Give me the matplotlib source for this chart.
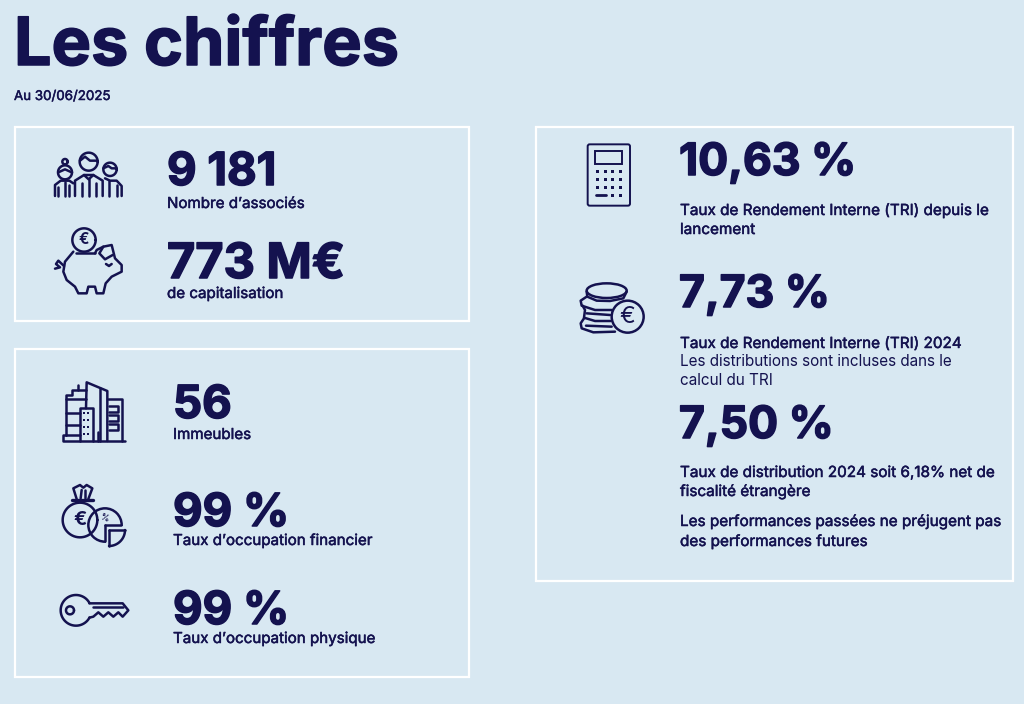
import numpy as np
import matplotlib
matplotlib.use('Agg')
import matplotlib.pyplot as plt
import matplotlib.patheffects as pe
from matplotlib.patches import Circle, FancyBboxPatch, Rectangle, Ellipse

BG = '#d8e8f2'
NAVY = '#14124f'

TITLE = 'Les chiffres'
SUBTITLE = 'Au 30/06/2025'

LEFT_VALUES = ['9 181', '773 M€', '56', '99 %', '99 %']
LEFT_LABELS = ['Nombre d’associés', 'de capitalisation', 'Immeubles',
               'Taux d’occupation financier', 'Taux d’occupation physique']
RIGHT_VALUES = ['10,63 %', '7,73 %', '7,50 %']
RIGHT_LINES = ['Taux de Rendement Interne (TRI) depuis le', 'lancement',
               'Taux de Rendement Interne (TRI) 2024',
               'Taux de distribution 2024 soit 6,18% net de', 'fiscalité étrangère',
               'Les performances passées ne préjugent pas', 'des performances futures']
RIGHT_LIGHT = ['Les distributions sont incluses dans le', 'calcul du TRI']

# layout, in pixels of the 1024x704 page
LEFT_X = [167, 167, 173, 173, 173]
LEFT_VALUE_Y = [185, 278, 418, 526, 624]
LEFT_LABEL_Y = [208, 298, 439, 545, 643]
RIGHT_VALUE_Y = [175, 307, 438]
RIGHT_LINE_Y = [215, 234, 348, 477, 496, 526, 546]
RIGHT_LIGHT_Y = [366, 385]

plt.rcParams['font.family'] = ['Inter', 'DejaVu Sans']

fig = plt.figure(figsize=(10.24, 7.04), dpi=100, facecolor=BG)
ax = fig.add_axes([0, 0, 1, 1])
ax.set_xlim(0, 1024)
ax.set_ylim(704, 0)
ax.axis('off')

LW = 1.8
HEAVY = [pe.withStroke(linewidth=1.1, foreground=NAVY)]
MEDIUM = [pe.withStroke(linewidth=0.35, foreground=NAVY)]


def stroke(pts, x0, y0, lw=LW):
    # points are read at 3x zoom from the crop corner
    p = np.array(pts, dtype=float)
    ax.plot(x0 + p[:, 0] / 3, y0 + p[:, 1] / 3, color=NAVY, lw=lw,
            solid_capstyle='round', solid_joinstyle='round')


def arc(cx, cy, r, a0, a1, x0, y0, lw=LW):
    t = np.radians(np.linspace(a0, a1, 60))
    ax.plot(x0 + (cx + r * np.cos(t)) / 3, y0 + (cy + r * np.sin(t)) / 3,
            color=NAVY, lw=lw, solid_capstyle='round')


def dots(xs, ys, x0, y0, s=2.4):
    for y in ys:
        for x in xs:
            ax.add_patch(Rectangle((x0 + x / 3 - s / 2, y0 + y / 3 - s / 2), s, s,
                                   fc=NAVY, ec='none'))


def draw_people(x0=40, y0=140):
    arc(146, 65, 27, 0, 360, x0, y0)
    stroke([(120, 62), (135, 50), (150, 62), (172, 62)], x0, y0)
    stroke([(105, 168), (105, 122), (132, 105), (160, 105), (188, 122), (188, 168)], x0, y0)
    stroke([(125, 168), (125, 128)], x0, y0)
    stroke([(168, 168), (168, 128)], x0, y0)
    stroke([(146, 118), (146, 168)], x0, y0)
    stroke([(132, 105), (146, 118), (160, 105)], x0, y0)
    arc(75, 97, 21, 0, 360, x0, y0)
    arc(75, 65, 8, 0, 360, x0, y0)
    stroke([(55, 97), (75, 88), (95, 97)], x0, y0)
    stroke([(45, 168), (45, 135), (62, 122), (88, 122), (100, 130)], x0, y0)
    stroke([(55, 168), (55, 140)], x0, y0)
    stroke([(75, 125), (75, 168)], x0, y0)
    stroke([(88, 168), (88, 135)], x0, y0)
    arc(210, 88, 20, 0, 360, x0, y0)
    stroke([(190, 85), (205, 78), (215, 85), (230, 85)], x0, y0)
    stroke([(195, 115), (210, 122), (230, 122), (245, 138), (245, 168)], x0, y0)
    stroke([(208, 122), (208, 168)], x0, y0)
    stroke([(230, 168), (230, 135)], x0, y0)


def draw_piggy(x0=40, y0=140):
    arc(132, 300, 35, 0, 360, x0, y0)
    ax.text(x0 + 132 / 3, y0 + 300 / 3, '€', color=NAVY, fontsize=11, ha='center',
            va='center', fontweight='bold')
    stroke([(108, 338), (165, 338)], x0, y0)
    stroke([(100, 335), (75, 365), (70, 395), (80, 420), (105, 440), (115, 460), (140, 460),
            (145, 440), (165, 440), (170, 460), (190, 460), (197, 430), (215, 410), (245, 395),
            (245, 375), (225, 355), (215, 315), (190, 320), (170, 330), (165, 340)], x0, y0)
    stroke([(190, 320), (178, 340), (195, 358), (218, 345)], x0, y0)
    stroke([(72, 378), (55, 362), (48, 372), (60, 382), (45, 386)], x0, y0)
    stroke([(198, 372), (207, 378), (215, 372)], x0, y0)


def draw_buildings(x0=50, y0=375):
    stroke([(47, 180), (40, 180), (40, 198), (225, 198)], x0, y0)
    stroke([(47, 180), (47, 60), (65, 60), (65, 45), (108, 45)], x0, y0)
    stroke([(85, 30), (85, 45)], x0, y0)
    stroke([(47, 72), (108, 72)], x0, y0)
    stroke([(47, 115), (90, 115)], x0, y0)
    stroke([(47, 150), (90, 150)], x0, y0)
    stroke([(47, 180), (90, 180)], x0, y0)
    stroke([(108, 100), (110, 22), (172, 48), (172, 198)], x0, y0)
    stroke([(150, 40), (150, 198)], x0, y0)
    stroke([(90, 198), (90, 100), (128, 100), (128, 198)], x0, y0)
    stroke([(145, 170), (145, 198)], x0, y0)
    dots([103, 115], [115, 135, 155, 178], x0, y0, s=2)
    stroke([(175, 72), (215, 72), (215, 198)], x0, y0)
    for y in [92, 120, 148]:
        stroke([(178, y), (203, y), (203, y + 18), (178, y + 18)], x0, y0)


def draw_money(x0=50, y0=375):
    arc(90, 435, 52, 0, 360, x0, y0)
    stroke([(65, 375), (130, 375)], x0, y0, lw=2.4)
    stroke([(80, 372), (70, 340), (90, 330), (100, 338), (110, 330), (127, 340), (115, 372)], x0, y0)
    stroke([(92, 370), (95, 345)], x0, y0)
    stroke([(105, 370), (105, 345)], x0, y0)
    ax.text(x0 + 90 / 3, y0 + 435 / 3, '€', color=NAVY, fontsize=14, ha='center',
            va='center', fontweight='bold')
    ax.add_patch(Circle((x0 + 165 / 3, y0 + 450 / 3), 50 / 3, fc=BG, ec=NAVY, lw=LW))
    ax.add_patch(Rectangle((x0 + 167 / 3, y0 + 452 / 3), 18, 18, fc=BG, ec='none'))
    stroke([(165, 450), (213, 450)], x0, y0)
    stroke([(165, 450), (165, 498)], x0, y0)
    stroke([(177, 465), (226, 465)], x0, y0)
    stroke([(177, 465), (177, 512)], x0, y0)
    arc(177, 465, 48, 0, 90, x0, y0)
    ax.text(x0 + 163 / 3, y0 + 428 / 3, '%', color=NAVY, fontsize=6, ha='center',
            va='center', fontweight='bold', rotation=-20)


def draw_key(x0=50, y0=375):
    arc(78, 706, 46, 28, 332, x0, y0)
    arc(60, 706, 12, 0, 360, x0, y0)
    stroke([(118, 685), (218, 685), (235, 706), (218, 725), (205, 712), (190, 725), (175, 712),
            (160, 725), (145, 712), (130, 725), (118, 728)], x0, y0)
    stroke([(130, 697), (218, 697)], x0, y0)


def draw_calculator(x0=570, y0=135):
    ax.add_patch(FancyBboxPatch((x0 + 56 / 3, y0 + 31 / 3), 121 / 3, 178 / 3,
                                boxstyle='round,pad=1,rounding_size=2', fc='none', ec=NAVY, lw=1.4))
    ax.add_patch(Rectangle((x0 + 75 / 3, y0 + 48 / 3), 82 / 3, 40 / 3, fc='none', ec=NAVY, lw=1.4))
    dots([82, 105, 128, 152], [110, 133, 156], x0, y0, s=3)
    dots([128, 152], [180], x0, y0, s=3)
    stroke([(78, 180), (108, 180)], x0, y0, lw=2)


def draw_coins(x0=570, y0=135):
    ax.add_patch(Ellipse((x0 + 110 / 3, y0 + 467 / 3), 120 / 3, 44 / 3, fc='none', ec=NAVY, lw=LW))
    stroke([(50, 470), (52, 485), (80, 497), (120, 498), (160, 490), (170, 470)], x0, y0)
    stroke([(50, 485), (32, 497), (35, 512), (75, 525), (125, 525)], x0, y0)
    stroke([(38, 512), (45, 525), (42, 548), (75, 558), (122, 558)], x0, y0)
    stroke([(42, 550), (32, 565), (35, 580), (70, 592), (135, 590)], x0, y0)
    stroke([(50, 535), (120, 540)], x0, y0)
    stroke([(48, 572), (125, 575)], x0, y0)
    ax.add_patch(Circle((x0 + 173 / 3, y0 + 545 / 3), 48 / 3, fc=BG, ec=NAVY, lw=LW))
    ax.text(x0 + 172 / 3, y0 + 545 / 3, '€', color=NAVY, fontsize=17, ha='center', va='center')


# boxes
for left, top, right, bottom in [(15, 127, 469, 321), (15, 349, 469, 677), (536, 127, 1013, 581)]:
    ax.add_patch(Rectangle((left, top), right - left, bottom - top, fc='none', ec='white', lw=1.6))

# header
ax.text(14, 65, TITLE, color=NAVY, fontsize=47.8, fontweight='bold', va='baseline', path_effects=HEAVY)
ax.text(14, 100, SUBTITLE, color=NAVY, fontsize=9.6, fontweight='normal', va='baseline', path_effects=MEDIUM)

# left column
for val, lab, x, vy, ly in zip(LEFT_VALUES, LEFT_LABELS, LEFT_X, LEFT_VALUE_Y, LEFT_LABEL_Y):
    size = 35 if 'M' in val else 32.8
    ax.text(x, vy, val, color=NAVY, fontsize=size, fontweight='bold', va='baseline', path_effects=HEAVY)
    ax.text(x, ly, lab, color=NAVY, fontsize=10.9, fontweight='normal', va='baseline', path_effects=MEDIUM)

# right column
for val, vy in zip(RIGHT_VALUES, RIGHT_VALUE_Y):
    ax.text(679, vy, val, color=NAVY, fontsize=32, fontweight='bold', va='baseline', path_effects=HEAVY)
for line, y in zip(RIGHT_LINES, RIGHT_LINE_Y):
    ax.text(680, y, line, color=NAVY, fontsize=11, fontweight='normal', va='baseline', path_effects=MEDIUM)
for line, y in zip(RIGHT_LIGHT, RIGHT_LIGHT_Y):
    ax.text(680, y, line, color=NAVY, fontsize=11, fontweight='normal', va='baseline')

draw_people()
draw_piggy()
draw_buildings()
draw_money()
draw_key()
draw_calculator()
draw_coins()

fig.savefig('out.png', dpi=100, facecolor=BG)
